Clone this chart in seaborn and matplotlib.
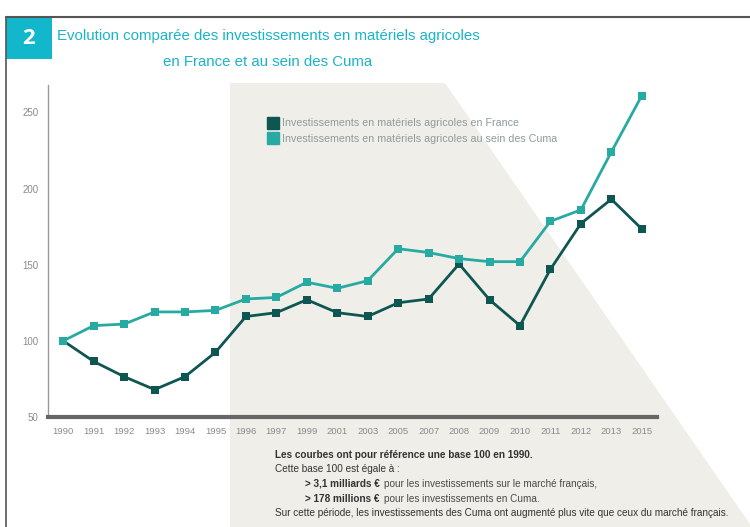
import matplotlib.pyplot as plt
import seaborn as sns
import pandas as pd
from matplotlib.patches import Polygon, Rectangle
from matplotlib.lines import Line2D
from matplotlib.ticker import FixedLocator

# Data (index base 100 in 1990)
years = ["1990", "1991", "1992", "1993", "1994", "1995", "1996", "1997", "1999", "2001",
         "2003", "2005", "2007", "2008", "2009", "2010", "2011", "2012", "2013", "2015"]
france = [100, 86.5, 76.5, 68, 76.5, 92.5, 116, 118.5, 127, 118.5,
          116, 125, 127.5, 150.5, 127, 110, 147, 177, 193, 173.5]
cuma = [100, 110, 111, 119, 119, 120, 127.5, 128.5, 138.5, 134.5,
        139.5, 160.5, 158, 154, 152, 152, 178.5, 186, 224, 261]
series_names = ["Investissements en matériels agricoles en France",
                "Investissements en matériels agricoles au sein des Cuma"]
colors = ["#0e5652", "#27aaa2"]

df = pd.DataFrame({
    "pos": list(range(len(years))) * 2,
    "value": france + cuma,
    "serie": [series_names[0]] * len(years) + [series_names[1]] * len(years),
})

sns.set_theme(style="white")
plt.rcParams['font.family'] = ['Liberation Sans', 'DejaVu Sans']

fig = plt.figure(figsize=(7.5, 5.27), dpi=100)
W, H = 750, 527

# grey background shape
fig.patches.append(Polygon([(230 / W, 1 - 83 / H), (445 / W, 1 - 83 / H), (752 / W, 0), (230 / W, 0)],
                           closed=True, transform=fig.transFigure, facecolor="#efeee9",
                           edgecolor="none", zorder=-5))
# frame lines
fig.add_artist(Line2D([6 / W, 1], [1 - 17 / H, 1 - 17 / H], transform=fig.transFigure, color="#555555", lw=1.5))
fig.add_artist(Line2D([6 / W, 6 / W], [0, 1 - 17 / H], transform=fig.transFigure, color="#555555", lw=1.2))
# "2" box
fig.patches.append(Rectangle((6 / W, 1 - 59 / H), 46 / W, 42 / H, transform=fig.transFigure,
                             facecolor="#12b7cb", edgecolor="none", zorder=1))
fig.text(29 / W, 1 - 39 / H, "2", color="white", fontsize=16, fontweight="bold",
         ha="center", va="center", family=["Open Sans", "DejaVu Sans"])

fig.text(268 / W, 1 - 36 / H, "Evolution comparée des investissements en matériels agricoles",
         color="#1ab4c9", fontsize=10.8, ha="center", va="center")
fig.text(268 / W, 1 - 62 / H, "en France et au sein des Cuma",
         color="#1ab4c9", fontsize=10.8, ha="center", va="center")

ax = fig.add_axes([48 / W, 1 - 417 / H, 609 / W, 332 / H])
ax.patch.set_alpha(0)

sns.lineplot(data=df, x="pos", y="value", hue="serie", palette=colors, marker="s",
             markersize=6, markeredgewidth=0, linewidth=2, legend=False, ax=ax)

ax.set_xlim(-0.5, 19.5)
ax.set_ylim(50, 268)
ax.set_xlabel("")
ax.set_ylabel("")

ax.set_xticks(range(len(years)))
ax.set_xticklabels(years)
ax.xaxis.set_minor_locator(FixedLocator([i + 0.5 for i in range(len(years))]))
ax.tick_params(axis="x", which="major", length=0, pad=7, labelsize=6.8, labelcolor="#8a8a8a")
ax.tick_params(axis="x", which="minor", length=5, width=0.8, direction="in", color="#999999")

ax.set_yticks([50, 100, 150, 200, 250])
ax.tick_params(axis="y", which="major", length=11, width=0.8, direction="in", color="#cccccc",
               pad=7, labelsize=7, labelcolor="#8a8a8a")

for s in ["top", "right"]:
    ax.spines[s].set_visible(False)
ax.spines["left"].set_color("#999999")
ax.spines["left"].set_linewidth(1)
ax.spines["bottom"].set_color("#666666")
ax.spines["bottom"].set_linewidth(3)

handles = [Line2D([], [], marker="s", color=c, linestyle="none", markersize=9) for c in colors]
fig.legend(handles, series_names, loc="upper left", bbox_to_anchor=(263 / W, 1 - 114 / H),
           frameon=False, fontsize=7.7, labelcolor="#8d9b9b", handletextpad=0.35,
           labelspacing=0.5, handlelength=1.0, borderaxespad=0)

# notes under the chart
fs = 7.2
tx = 275 / W


def note(x, y, bold, rest=None):
    t = fig.text(x, 1 - y / H, bold, fontsize=fs, color="#333333", va="center",
                 fontweight="bold" if rest is not None or bold.startswith("Les") else "normal")
    if rest is not None:
        ax.annotate(rest, xy=(1, 0.5), xycoords=t, xytext=(3, 0), textcoords="offset points",
                    fontsize=fs, color="#4a4a4a", va="center", annotation_clip=False)
    return t


note(tx, 455, "Les courbes ont pour référence une base 100 en 1990.")
note(tx, 469, "Cette base 100 est égale à :")
note(305 / W, 484, "> 3,1 milliards €", "pour les investissements sur le marché français,")
note(305 / W, 499, "> 178 millions €", "pour les investissements en Cuma.")
note(tx, 513, "Sur cette période, les investissements des Cuma ont augmenté plus vite que ceux du marché français.")

fig.savefig("out.png", dpi=100)
